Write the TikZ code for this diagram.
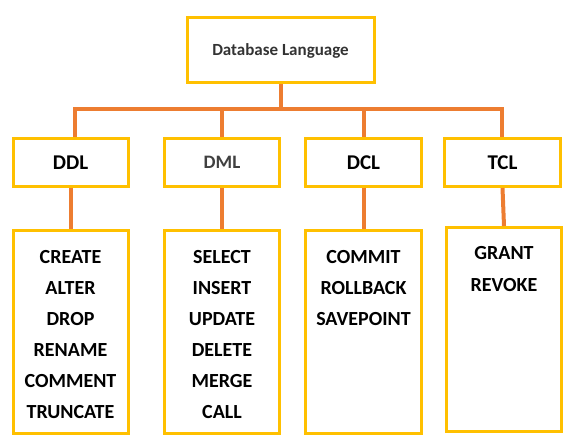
\documentclass[tikz,border=0pt]{standalone}
\usepackage{fontspec}
\setmainfont{Carlito}
\definecolor{boxy}{HTML}{FFC000}
\definecolor{conno}{HTML}{ED7D31}
\definecolor{darkt}{HTML}{333333}
\definecolor{grayt}{HTML}{404040}
\begin{document}
\begin{tikzpicture}[x=1pt,y=-1pt,
  box/.style={draw=boxy,line width=3pt,fill=white,inner sep=0pt},
  head/.style={box,minimum width=115pt,minimum height=48pt,font=\fontsize{21}{24}\selectfont\bfseries},
  listbox/.style={box,minimum width=115pt,minimum height=203pt},
  items/.style={anchor=north,inner sep=0pt,align=center,font=\fontsize{20}{31}\selectfont\bfseries},
  conn/.style={draw=conno,line width=4pt}]
\useasboundingbox (0,0) rectangle (577,443);
\node[box,minimum width=187pt,minimum height=65pt,text=darkt,font=\fontsize{17}{20}\selectfont\bfseries] (top) at (280.5,50.5) {Database Language};
\node[head] (ddl) at (70.5,162.5) {DDL};
\node[head,text=grayt,font=\fontsize{19}{22}\selectfont\bfseries] (dml) at (222,162.5) {DML};
\node[head,minimum width=116pt] (dcl) at (363.5,162.5) {DCL};
\node[head,minimum width=116pt] (tcl) at (502.5,162.5) {TCL};
\node[listbox] (ddll) at (70.5,332) {};
\node[listbox] (dmll) at (222,332) {};
\node[listbox,minimum width=116pt] (dcll) at (363.5,332) {};
\node[listbox,minimum height=204pt] (tcll) at (504,329.5) {};
\node[items] (ddlt) at (70.5,250.5) {CREATE\\ALTER\\DROP\\RENAME\\COMMENT\\TRUNCATE};
\node[items] (dmlt) at (222,250.5) {SELECT\\INSERT\\UPDATE\\DELETE\\MERGE\\CALL};
\node[items] (dclt) at (363.5,250.5) {COMMIT\\ROLLBACK\\SAVEPOINT};
\node[items,font=\fontsize{20}{32}\selectfont\bfseries] (tclt) at (504,246.5) {GRANT\\REVOKE};
\coordinate (bL) at (75,109);
\coordinate (bR) at (502,109);
\draw[conn] (top.south) -- (top.south |- bL);
\draw[conn,line cap=rect] (bL) -- (bR);
\draw[conn] (bL) -- (bL |- ddl.north);
\draw[conn] (dml.north |- bL) -- (dml.north);
\draw[conn] (dcl.north |- bL) -- (dcl.north);
\draw[conn] (bR) -- (bR |- tcl.north);
\draw[conn] (ddl.south) -- (ddll.north);
\draw[conn] (dml.south) -- (dmll.north);
\draw[conn] (dcl.south) -- (dcll.north);
\draw[conn] (tcl.south) -- (tcll.north);
\end{tikzpicture}
\end{document}
